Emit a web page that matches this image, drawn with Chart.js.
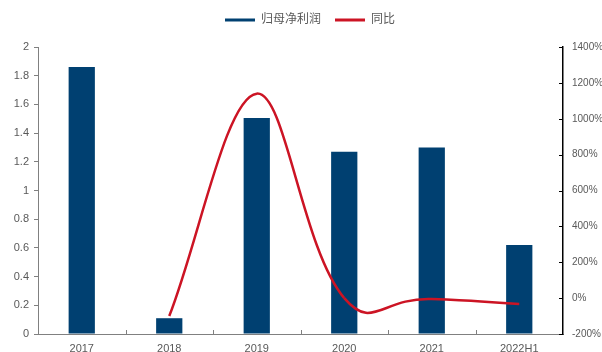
<!DOCTYPE html>
<html>
<head>
<meta charset="utf-8">
<script src="https://cdn.jsdelivr.net/npm/chart.js@4"></script>
<style>
html,body{margin:0;padding:0;background:#fff;}
#wrap{width:602px;height:352px;position:relative;}
</style>
</head>
<body>
<div id="wrap"><canvas id="c" width="602" height="352"></canvas></div>
<script>
const categories = ['2017', '2018', '2019', '2020', '2021', '2022H1'];
const netProfit = [1.86, 0.11, 1.505, 1.27, 1.30, 0.62];
const yoyGrowth = [null, -100, 1140, 0, -5, -33];
const leftTicks = { min: 0, max: 2, step: 0.2 };
const rightTicks = { min: -200, max: 1400, step: 200 };
const seriesNames = ['归母净利润', '同比'];

const BLUE = '#004071';
const RED = '#cc1424';
const TXT = '#595959';
const FONT = "'Liberation Sans', 'Noto Sans CJK SC', sans-serif";

// The YoY line is drawn as two overlapping passes of the same data so that
// the smoothing can be tighter at the peak and looser after 2020.
const splitIndex = 3; // index of 2020
const yoyHead = yoyGrowth.map((v, i) => (i <= splitIndex + 1 ? v : null));
const yoyTail = yoyGrowth.map((v, i) => (i >= splitIndex - 1 ? v : null));

const innerTicks = {
  id: 'innerTicks',
  afterDraw(chart) {
    const ctx = chart.ctx;
    const x = chart.scales.x, y1 = chart.scales.y1;
    ctx.save();
    ctx.lineWidth = 1;
    ctx.strokeStyle = '#000';
    y1.ticks.forEach(t => {
      const py = Math.round(y1.getPixelForValue(t.value)) + 0.5;
      ctx.beginPath();
      ctx.moveTo(y1.left, py);
      ctx.lineTo(y1.left - 4, py);
      ctx.stroke();
    });
    ctx.strokeStyle = '#808080';
    const n = categories.length;
    for (let i = 0; i <= n; i++) {
      let px;
      if (i === 0) px = chart.chartArea.left;
      else if (i === n) px = chart.chartArea.right;
      else px = (x.getPixelForValue(i - 1) + x.getPixelForValue(i)) / 2;
      px = Math.round(px) + 0.5;
      ctx.beginPath();
      ctx.moveTo(px, x.top);
      ctx.lineTo(px, x.top - 4);
      ctx.stroke();
    }
    ctx.restore();
  }
};

const shiftLegend = {
  id: 'shiftLegend',
  afterLayout(chart) {
    chart.legend.left += 9;
    chart.legend.right += 9;
  }
};

new Chart(document.getElementById('c'), {
  type: 'bar',
  data: {
    labels: categories,
    datasets: [
      {
        label: seriesNames[0],
        data: netProfit,
        yAxisID: 'y',
        backgroundColor: BLUE,
        barPercentage: 0.3,
        categoryPercentage: 1,
        order: 2
      },
      {
        type: 'line',
        label: seriesNames[1],
        data: yoyHead,
        yAxisID: 'y1',
        borderColor: RED,
        backgroundColor: RED,
        borderWidth: 2.5,
        pointRadius: 0,
        tension: 0.34,
        spanGaps: false,
        segment: { borderColor: c => (c.p0DataIndex >= splitIndex ? 'rgba(0,0,0,0)' : undefined) },
        order: 1
      },
      {
        type: 'line',
        label: seriesNames[1] + '_tail',
        data: yoyTail,
        yAxisID: 'y1',
        borderColor: RED,
        backgroundColor: RED,
        borderWidth: 2.5,
        pointRadius: 0,
        tension: 0.58,
        spanGaps: false,
        segment: { borderColor: c => (c.p0DataIndex < splitIndex ? 'rgba(0,0,0,0)' : undefined) },
        order: 1
      }
    ]
  },
  options: {
    responsive: false,
    animation: false,
    layout: { padding: 0 },
    plugins: {
      tooltip: { enabled: false },
      legend: {
        position: 'top',
        labels: {
          boxWidth: 30,
          boxHeight: 3,
          padding: 14,
          color: TXT,
          font: { family: FONT, size: 12 },
          filter: item => item.datasetIndex !== 2,
          sort: (a, b) => a.datasetIndex - b.datasetIndex,
          generateLabels(chart) {
            const items = Chart.defaults.plugins.legend.labels.generateLabels(chart);
            items.forEach(it => { it.lineWidth = 0; it.strokeStyle = it.fillStyle; });
            return items;
          }
        }
      }
    },
    scales: {
      x: {
        offset: true,
        grid: { display: false, drawOnChartArea: false },
        border: { display: true, color: '#808080', width: 1 },
        ticks: { color: TXT, font: { family: FONT, size: 11 }, padding: 0, maxRotation: 0 },
        afterFit(s) { s.height = 18; }
      },
      y: {
        position: 'left',
        min: leftTicks.min, max: leftTicks.max,
        ticks: { stepSize: leftTicks.step, color: TXT, font: { family: FONT, size: 11 }, padding: 5,
          callback: v => String(+Number(v).toFixed(1)) },
        grid: { drawOnChartArea: false, drawTicks: true, tickLength: 4, color: '#808080' },
        border: { display: true, color: '#808080', width: 1 },
        afterFit(s) { s.width = 38; }
      },
      y1: {
        position: 'right',
        min: rightTicks.min, max: rightTicks.max,
        ticks: { stepSize: rightTicks.step, color: TXT, font: { family: FONT, size: 10 }, padding: 9,
          callback: v => v + '%' },
        grid: { drawOnChartArea: false, drawTicks: false },
        border: { display: true, color: '#000', width: 1.5 },
        afterFit(s) { s.width = 39; }
      }
    }
  },
  plugins: [innerTicks, shiftLegend, {
    id: 'legendHeight',
    afterInit(chart) {
      const lg = chart.legend;
      const orig = lg.fit.bind(lg);
      lg.fit = function () { orig(); this.height = 47; };
    }
  }]
});
</script>
</body>
</html>
